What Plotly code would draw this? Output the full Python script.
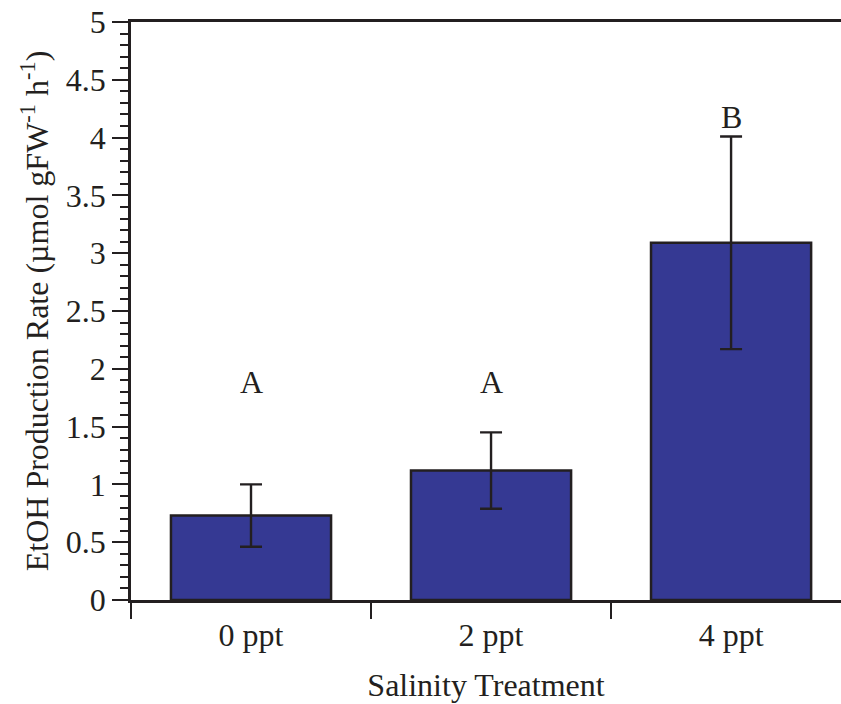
import plotly.graph_objects as go

categories = ["0 ppt", "2 ppt", "4 ppt"]
means = [0.73, 1.12, 3.09]
errors = [0.27, 0.33, 0.92]
letters = ["A", "A", "B"]
letter_y = [1.89, 1.89, 4.18]

ink = "#231f20"
fam = "Liberation Serif"
fs = 32

fig = go.Figure()
fig.add_trace(go.Bar(
    x=categories, y=means, width=0.667,
    marker=dict(color="#353993", line=dict(color=ink, width=2.5)),
    error_y=dict(type="data", array=errors, thickness=2.4, width=11, color=ink),
))
for c, l, ly in zip(categories, letters, letter_y):
    fig.add_annotation(x=c, y=ly, text=l, showarrow=False,
                       font=dict(family=fam, size=fs, color=ink))

fig.update_layout(
    width=841, height=704,
    margin=dict(l=131, r=0, t=22, b=104, autoexpand=False),
    paper_bgcolor="white", plot_bgcolor="white",
    showlegend=False,
    font=dict(family=fam, size=fs, color=ink),
    xaxis=dict(type="category", range=[-0.5, 2.458], tickson="boundaries",
               ticks="outside", ticklen=16, tickwidth=1.5, tickcolor=ink,
               showline=True, linecolor=ink, linewidth=2.5, mirror=True,
               showgrid=False, zeroline=False, ticklabelstandoff=5,
               title=dict(text="Salinity Treatment", standoff=22,
                          font=dict(family=fam, size=fs, color=ink)),
               tickfont=dict(family=fam, size=fs, color=ink)),
    yaxis=dict(range=[0, 5], dtick=0.5, tick0=0,
               ticks="outside", ticklen=16, tickwidth=1.5, tickcolor=ink,
               minor=dict(dtick=0.1, ticks="outside", ticklen=8, tickwidth=1.5, tickcolor=ink),
               showline=True, linecolor=ink, linewidth=2.5,
               showgrid=False, zeroline=False,
               title=dict(text="EtOH Production Rate (µmol gFW<sup>-1</sup> h<sup>-1</sup>)", standoff=8,
                          font=dict(family=fam, size=fs, color=ink)),
               tickfont=dict(family=fam, size=fs, color=ink)),
)
fig.write_html("out.html", config={"displayModeBar": False},
               post_script="document.body.style.margin='0';document.body.style.overflow='hidden';")
